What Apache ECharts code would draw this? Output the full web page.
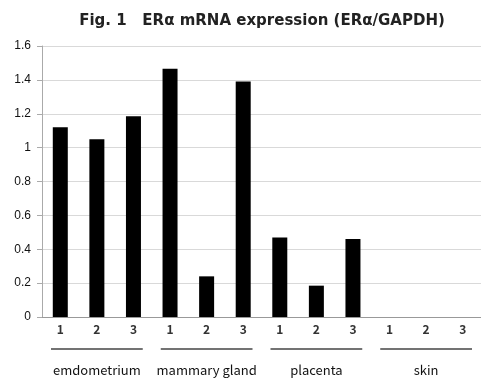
<!DOCTYPE html>
<html>
<head>
<meta charset="utf-8">
<script src="https://cdn.jsdelivr.net/npm/echarts@6/dist/echarts.min.js"></script>
<style>
html,body{margin:0;padding:0;background:#fff;}
#chart{width:481px;height:378px;}
</style>
</head>
<body>
<div id="chart"></div>
<script>
// 数据
var sampleLabels = ['1', '2', '3', '1', '2', '3', '1', '2', '3', '1', '2', '3'];
var groupNames = ['emdometrium', 'mammary gland', 'placenta', 'skin'];
var expressionValues = [1.12, 1.05, 1.185, 1.465, 0.24, 1.39, 0.47, 0.185, 0.46, 0, 0, 0];
var yTicks = [0, 0.2, 0.4, 0.6, 0.8, 1, 1.2, 1.4, 1.6];

var chart = echarts.init(document.getElementById('chart'));

var option = {
	backgroundColor: '#fff',
	animation: false,
	title: {
		text: 'Fig. 1   ERα mRNA expression (ERα/GAPDH)',
		left: 257,
		textAlign: 'center',
		top: 9,
		textStyle: {
			fontFamily: 'DejaVu Sans',
			fontWeight: 'bold',
			fontSize: 15,
			color: '#222'
		}
	},
	grid: {
		left: 42,
		top: 46,
		width: 444,
		height: 271
	},
	xAxis: [{
		type: 'category',
		data: sampleLabels,
		axisLine: { lineStyle: { color: '#999' } },
		axisTick: { show: false },
		axisLabel: {
			margin: 6,
			fontFamily: 'Noto Sans CJK JP',
			fontSize: 12,
			fontWeight: 'bold',
			color: '#333'
		}
	}, {
		type: 'category',
		data: groupNames,
		position: 'bottom',
		offset: 44,
		axisLine: { show: false },
		axisTick: { show: false },
		axisLabel: {
			interval: 0,
			margin: 3,
			fontFamily: 'Noto Sans CJK JP',
			fontSize: 13,
			color: '#111'
		}
	}],
	yAxis: {
		type: 'value',
		min: 0,
		max: yTicks[yTicks.length - 1],
		interval: 0.2,
		axisLine: { show: true, lineStyle: { color: '#aaa' } },
		axisTick: { show: true, length: 5, lineStyle: { color: '#aaa' } },
		splitLine: { lineStyle: { color: '#d9d9d9' } },
		axisLabel: {
			margin: 11,
			fontFamily: 'Liberation Sans',
			fontSize: 12,
			color: '#111',
			formatter: function(v){ return String(Math.round(v * 10) / 10); }
		}
	},
	series: [{
		type: 'bar',
		xAxisIndex: 0,
		data: expressionValues,
		barWidth: 15,
		itemStyle: { color: '#000' }
	}, {
		// 组下划线
		type: 'custom',
		xAxisIndex: 1,
		clip: false,
		silent: true,
		data: groupNames.map(function(n, i){ return [i, 0]; }),
		renderItem: function(params, api){
			var p = api.coord([api.value(0), 0]);
			var w = api.size([1, 0])[0];
			var y = p[1] + 32;
			return {
				type: 'line',
				shape: { x1: p[0] - w / 2 + 9, y1: y, x2: p[0] + w / 2 - 9, y2: y },
				style: { stroke: '#444', lineWidth: 1.5 }
			};
		}
	}]
};
chart.setOption(option);
</script>
</body>
</html>
